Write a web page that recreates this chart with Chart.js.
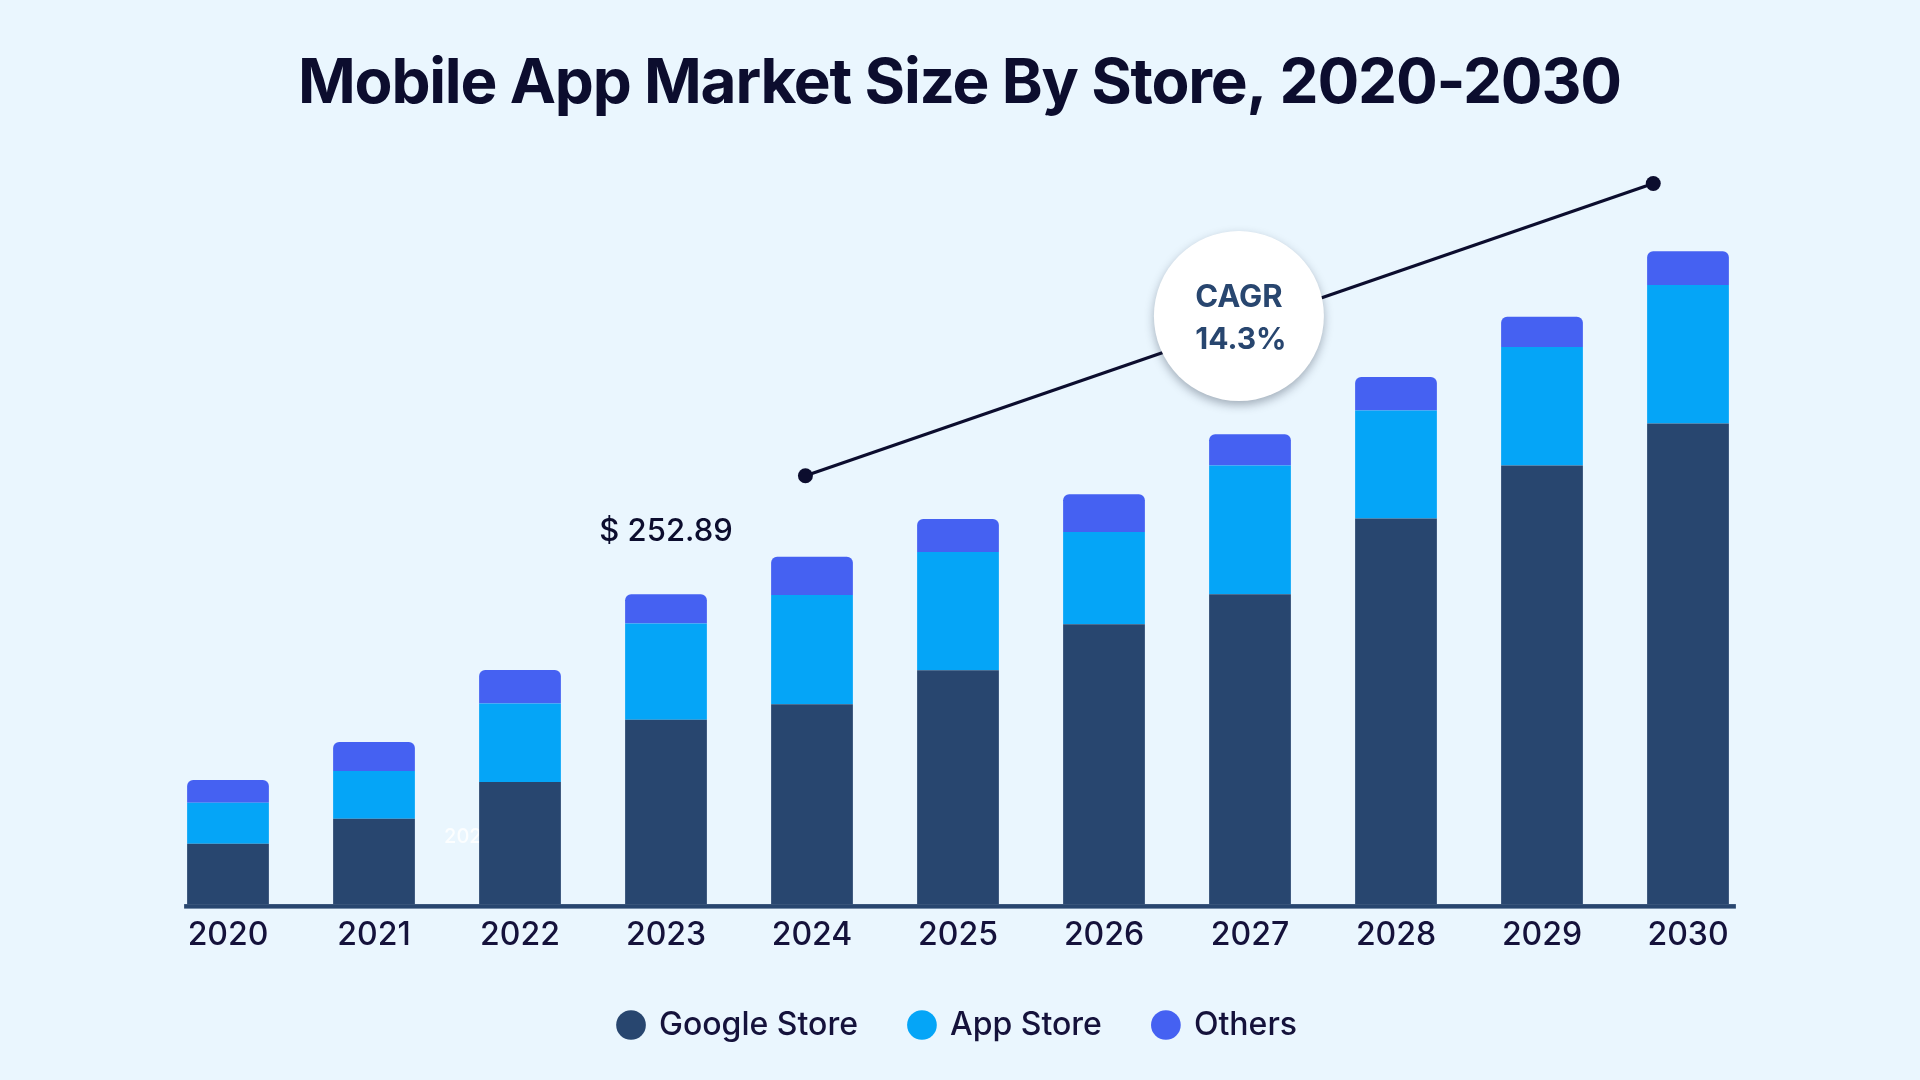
<!DOCTYPE html>
<html lang="en">
<head>
    <meta charset="utf-8">
    <title>Mobile App Market Size By Store, 2020-2030</title>
    <script src="https://cdn.jsdelivr.net/npm/chart.js@4.4.1/dist/chart.umd.min.js"></script>
    <style>
        html, body {
            margin: 0;
            padding: 0;
            background: #eaf6fe;
        }
        .chart-container {
            position: relative;
            width: 1920px;
            height: 1080px;
        }
    </style>
</head>
<body>

<div class="chart-container">
    <canvas id="myChart"></canvas>
</div>

<script>
    // chart data (USD billion)
    const years = ['2020', '2021', '2022', '2023', '2024', '2025', '2026', '2027', '2028', '2029', '2030'];
    const googleStore = [49.5, 69.9, 99.9, 150.6, 163.1, 190.9, 228.4, 252.8, 314.6, 357.7, 391.8];
    const appStore = [33.5, 38.9, 63.9, 78.3, 89.0, 96.4, 75.1, 104.9, 87.8, 96.4, 112.9];
    const others = [18.5, 23.7, 27.3, 23.99, 31.3, 26.7, 30.8, 25.5, 27.4, 24.7, 27.4];

    const chartTitle = 'Mobile App Market Size By Store, 2020-2030';
    const highlightIndex = 3;          // 2023
    const highlightText = '$ 252.89';
    const cagrLines = ['CAGR', '14.3%'];

    // trend arrow and bubble, as [category index, value]
    const trendFrom = [3.955, 349.3];
    const trendTo = [9.762, 587.4];
    const bubbleAt = [6.924, 479.4];

    const ink = '#0c0d2e';
    const navy = '#28466f';

    const decorations = {
        id: 'decorations',
        beforeDatasetsDraw(chart) {
            // faint leftover label half hidden behind the 2022 bar
            const {ctx, scales: {y}} = chart;
            const bar = chart.getDatasetMeta(0).data[2];
            ctx.save();
            ctx.font = '500 20px Inter';
            ctx.fillStyle = 'rgba(255,255,255,0.85)';
            ctx.textBaseline = 'middle';
            ctx.fillText('2022', bar.x - bar.width / 2 - 35, y.getPixelForValue(55));
            ctx.restore();
        },
        afterDatasetsDraw(chart) {
            const {ctx, scales: {x, y}} = chart;
            const bars = chart.getDatasetMeta(0).data;
            const first = bars[0], last = bars[bars.length - 1];

            ctx.save();
            // base line
            const x0 = first.x - first.width / 2 - 3;
            const x1 = last.x + last.width / 2 + 7;
            ctx.fillStyle = navy;
            ctx.fillRect(x0, y.getPixelForValue(0) - 0.5, x1 - x0, 4.5);

            // value label over 2023
            const top = chart.getDatasetMeta(2).data[highlightIndex];
            ctx.font = '500 31px Inter';
            ctx.fillStyle = ink;
            ctx.textAlign = 'center';
            ctx.textBaseline = 'alphabetic';
            ctx.fillText(highlightText, top.x, top.y - 53);

            // trend line
            const ax = x.getPixelForValue(trendFrom[0]), ay = y.getPixelForValue(trendFrom[1]);
            const bx = x.getPixelForValue(trendTo[0]), by = y.getPixelForValue(trendTo[1]);
            ctx.strokeStyle = ink;
            ctx.lineWidth = 3.2;
            ctx.beginPath();
            ctx.moveTo(ax, ay);
            ctx.lineTo(bx, by);
            ctx.stroke();
            ctx.fillStyle = ink;
            [[ax, ay], [bx, by]].forEach(function (p) {
                ctx.beginPath();
                ctx.arc(p[0], p[1], 7.5, 0, Math.PI * 2);
                ctx.fill();
            });

            // CAGR bubble
            const cx = x.getPixelForValue(bubbleAt[0]), cy = y.getPixelForValue(bubbleAt[1]);
            ctx.save();
            ctx.shadowColor = 'rgba(30,40,60,0.35)';
            ctx.shadowBlur = 10;
            ctx.shadowOffsetY = 4;
            ctx.fillStyle = '#ffffff';
            ctx.beginPath();
            ctx.arc(cx, cy, 85, 0, Math.PI * 2);
            ctx.fill();
            ctx.restore();
            ctx.fillStyle = navy;
            ctx.font = '700 31px Inter';
            ctx.fillText(cagrLines[0], cx, cy - 9);
            ctx.font = '700 30px Inter';
            ctx.fillText(cagrLines[1], cx + 2, cy + 33);
            ctx.restore();
        },
        afterDraw(chart) {
            const ctx = chart.ctx;
            ctx.save();
            ctx.font = '700 62px Inter';
            ctx.letterSpacing = '0px';
            const w = ctx.measureText(chartTitle).width;
            const spacing = (1324 - w) / (chartTitle.length - 1);
            ctx.letterSpacing = spacing.toFixed(2) + 'px';
            ctx.fillStyle = ink;
            ctx.textAlign = 'left';
            ctx.textBaseline = 'alphabetic';
            ctx.fillText(chartTitle, chart.width / 2 - 662, 103);
            ctx.restore();
        }
    };

    const ctx = document.getElementById('myChart').getContext('2d');
    const myChart = new Chart(ctx, {
        type: 'bar',
        data: {
            labels: years,
            datasets: [{
                label: 'Google Store',
                data: googleStore,
                backgroundColor: '#28466f'
            }, {
                label: 'App Store',
                data: appStore,
                backgroundColor: '#05a5f7'
            }, {
                label: 'Others',
                data: others,
                backgroundColor: '#4561f2',
                borderRadius: {topLeft: 6, topRight: 6, bottomLeft: 0, bottomRight: 0},
                borderSkipped: 'start'
            }]
        },
        options: {
            responsive: true,
            maintainAspectRatio: false,
            animation: false,
            barPercentage: 0.56,
            categoryPercentage: 1,
            layout: {
                padding: {top: 168, left: 155, right: 159, bottom: 29}
            },
            scales: {
                x: {
                    stacked: true,
                    grid: {display: false, drawTicks: false},
                    border: {display: false},
                    ticks: {
                        padding: 12,
                        color: '#15123b',
                        font: {family: 'Inter', size: 32, weight: '500'}
                    },
                    afterFit(scale) {
                        // pull the legend a bit closer to the year labels
                        scale.height -= 10;
                    }
                },
                y: {
                    stacked: true,
                    display: false,
                    min: 0,
                    max: 600
                }
            },
            plugins: {
                legend: {
                    position: 'bottom',
                    labels: {
                        usePointStyle: true,
                        pointStyle: 'circle',
                        boxWidth: 24,
                        boxHeight: 21,
                        padding: 52,
                        color: '#15123b',
                        font: {family: 'Inter', size: 32, weight: '500'}
                    }
                },
                tooltip: {enabled: false}
            }
        },
        plugins: [decorations]
    });
</script>

</body>
</html>
